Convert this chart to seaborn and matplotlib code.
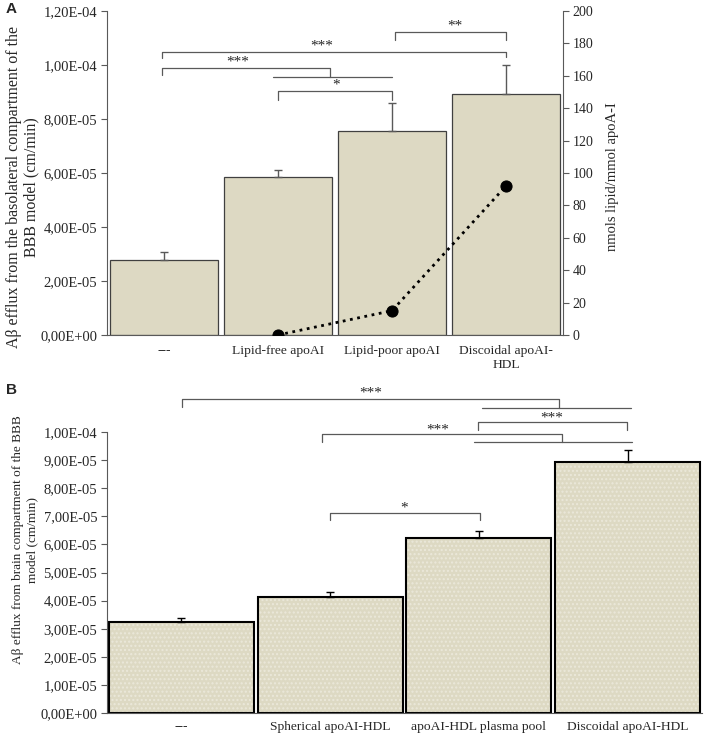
import numpy as np
import matplotlib
matplotlib.use("Agg")
import matplotlib.pyplot as plt
import seaborn as sns
from matplotlib.ticker import FuncFormatter, MultipleLocator
from matplotlib.patches import Rectangle

# ---- data: panel A ----
cats_a = ["---", "Lipid-free apoAI", "Lipid-poor apoAI", "Discoidal apoAI-\nHDL"]
efflux_a = [2.78e-5, 5.85e-5, 7.56e-5, 8.93e-5]
err_a = [0.30e-5, 0.26e-5, 1.03e-5, 1.07e-5]
lipid_x = [1, 2, 3]
lipid_a = [0, 15, 92]

# ---- data: panel B ----
cats_b = ["---", "Spherical apoAI-HDL", "apoAI-HDL plasma pool", "Discoidal apoAI-HDL"]
efflux_b = [3.24e-5, 4.13e-5, 6.23e-5, 8.94e-5]
err_b = [0.15e-5, 0.19e-5, 0.26e-5, 0.42e-5]

BAR = "#ddd9c3"
GREY = "#595959"

sns.set_style("white")
plt.rcParams["font.family"] = ["Liberation Serif", "DejaVu Serif"]
plt.rcParams["font.size"] = 9.7

fig = plt.figure(figsize=(7.08, 7.40), dpi=100)

sci = FuncFormatter(lambda v, p: f"{v:.2E}".replace(".", ","))


def bracket(ax, x0, x1, y, d0, d1, label, lx, ly):
    ax.plot([x0, x0, x1, x1], [y - d0, y, y, y - d1], color=GREY, lw=0.9,
            clip_on=False)
    ax.text(lx, ly, label, ha="center", va="center", fontsize=11,
            clip_on=False)


def hline(ax, x0, x1, y):
    ax.plot([x0, x1], [y, y], color=GREY, lw=0.9, clip_on=False)


# =========================
# PANEL A
# =========================
ax = fig.add_axes([0.1511, 0.5473, 0.6441, 0.4378])
sns.barplot(x=cats_a, y=efflux_a, color=BAR, edgecolor="#404040",
            linewidth=0.9, width=0.94, saturation=1, ax=ax)
ax.errorbar(range(4), efflux_a, yerr=[np.zeros(4), err_a], fmt="none",
            ecolor=GREY, elinewidth=1, capsize=3)
ax.set_xlim(-0.5, 3.5)
ax.set_ylim(0, 1.2e-4)
ax.yaxis.set_major_locator(MultipleLocator(2e-5))
ax.yaxis.set_major_formatter(sci)
ax.set_ylabel("Aβ efflux from the basolateral compartment of the\nBBB model (cm/min)",
              fontsize=11.5, linespacing=1.1)
ax.yaxis.set_label_coords(-0.148, 0.457)
ax.tick_params(axis="y", which="major", direction="out", length=4, left=True,
               color=GREY, pad=3, labelsize=10.5)
ax.tick_params(axis="x", length=0, pad=7)
for s in ["left", "bottom"]:
    ax.spines[s].set_color(GREY)
ax.spines["top"].set_visible(False)
ax.spines["right"].set_visible(False)

ax2 = ax.twinx()
sns.lineplot(x=lipid_x, y=lipid_a, ax=ax2, color="black", linestyle=":",
             linewidth=2, marker="o", markersize=8, markeredgecolor="black")
ax2.set_ylim(0, 200)
ax2.yaxis.set_major_locator(MultipleLocator(20))
ax2.set_ylabel("nmols lipid/mmol apoA-I", fontsize=10.5)
ax2.yaxis.set_label_coords(1.095, 0.49)
ax2.tick_params(axis="y", direction="out", length=4, right=True, color=GREY,
                pad=3, labelsize=10)
ax2.spines["right"].set_color(GREY)
ax2.spines["left"].set_visible(False)
ax2.spines["top"].set_visible(False)
ax2.spines["bottom"].set_visible(False)

bracket(ax, -0.02, 3.0, 1.048e-4, 0.22e-5, 0.18e-5, "***", 1.38, 1.07e-4)
bracket(ax, -0.02, 1.456, 9.89e-5, 0.26e-5, 0.32e-5, "***", 0.65, 1.011e-4)
hline(ax, 0.956, 2.0, 9.56e-5)
bracket(ax, 1.0, 2.0, 9.04e-5, 0.32e-5, 0.32e-5, "*", 1.51, 9.26e-5)
bracket(ax, 2.03, 3.0, 1.122e-4, 0.3e-5, 0.3e-5, "**", 2.55, 1.143e-4)

fig.text(0.008, 0.997, "A", fontsize=11, fontweight="bold",
         family="Liberation Sans", va="top")

# =========================
# PANEL B
# =========================
bx = fig.add_axes([0.1511, 0.0365, 0.8404, 0.3797])
sns.barplot(x=cats_b, y=efflux_b, color=BAR, edgecolor="#ebe8da",
            linewidth=0, width=0.975, saturation=1, hatch="....", ax=bx)
for p in list(bx.patches):
    bx.add_patch(Rectangle(p.get_xy(), p.get_width(), p.get_height(),
                           fill=False, edgecolor="black", lw=1.5))
bx.errorbar(range(4), efflux_b, yerr=[np.zeros(4), err_b], fmt="none",
            ecolor="black", elinewidth=1, capsize=3)
bx.set_xlim(-0.5, 3.5)
bx.set_ylim(0, 1.0e-4)
bx.yaxis.set_major_locator(MultipleLocator(1e-5))
bx.yaxis.set_major_formatter(sci)
bx.set_ylabel("Aβ efflux from brain compartment of the BBB\nmodel (cm/min)",
              fontsize=9.5, linespacing=1.25)
bx.yaxis.set_label_coords(-0.116, 0.616)
bx.tick_params(axis="y", direction="out", length=4, left=True, color=GREY,
               pad=3, labelsize=10.5)
bx.tick_params(axis="x", length=0, pad=6)
for s in ["left", "bottom"]:
    bx.spines[s].set_color(GREY)
bx.spines["top"].set_visible(False)
bx.spines["right"].set_visible(False)

bracket(bx, 0.004, 2.539, 1.1174e-4, 0.28e-5, 0.32e-5, "***", 1.27, 1.137e-4)
hline(bx, 2.02, 3.02, 1.0854e-4)
bracket(bx, 0.945, 2.559, 9.93e-5, 0.29e-5, 0.29e-5, "***", 1.72, 1.008e-4)
hline(bx, 1.967, 3.03, 9.64e-5)
bracket(bx, 1.994, 2.996, 1.0356e-4, 0.29e-5, 0.29e-5, "***", 2.49, 1.051e-4)
bracket(bx, 1.0, 2.01, 7.12e-5, 0.25e-5, 0.25e-5, "*", 1.5, 7.31e-5)

fig.text(0.008, 0.482, "B", fontsize=11, fontweight="bold",
         family="Liberation Sans", va="top")

fig.savefig("out.png", dpi=100)
